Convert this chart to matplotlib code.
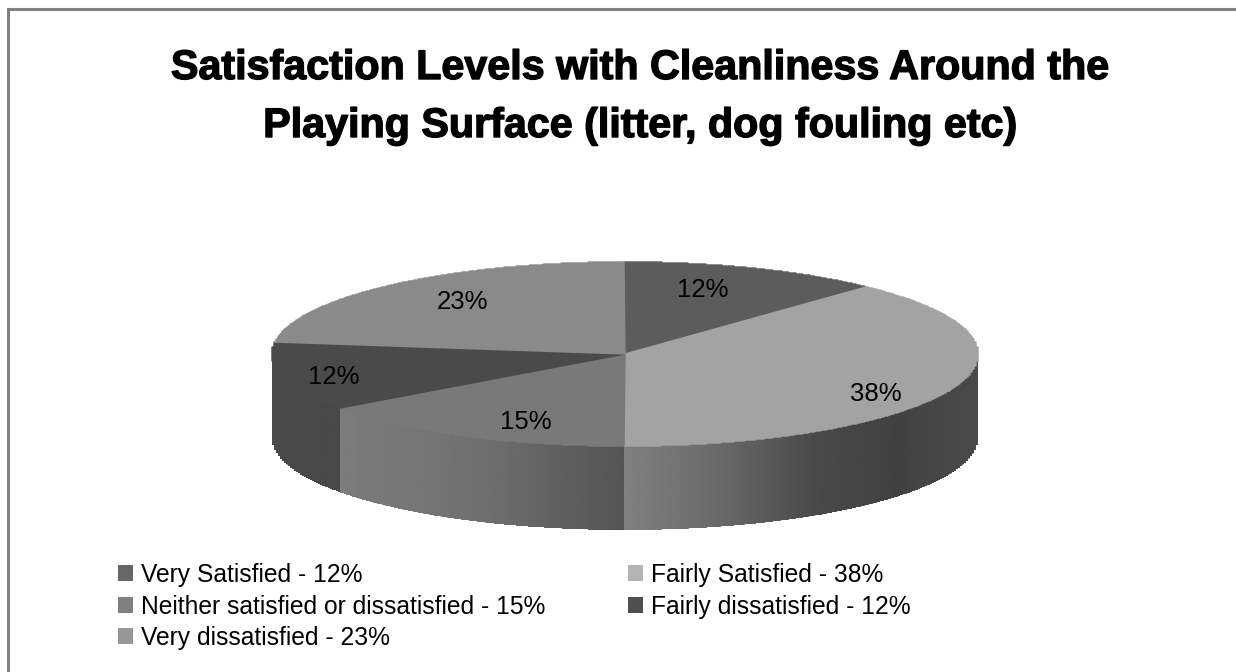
import numpy as np
import matplotlib
matplotlib.use('Agg')
import matplotlib.pyplot as plt
import matplotlib.patheffects as pe
from matplotlib.patches import Polygon, Rectangle

plt.rcParams['font.family'] = ['Liberation Sans', 'DejaVu Sans']

# Survey results
categories = ['Very Satisfied', 'Fairly Satisfied', 'Neither satisfied or dissatisfied',
              'Fairly dissatisfied', 'Very dissatisfied']
shares = [12, 38, 15, 12, 23]
top_colors = ['#5c5c5c', '#a3a3a3', '#797979', '#4a4a4a', '#8a8a8a']
legend_colors = ['#666666', '#b4b4b4', '#808080', '#505050', '#969696']
title_lines = ['Satisfaction Levels with Cleanliness Around the',
               'Playing Surface (litter, dog fouling etc)']

W, H = 1236, 672
cx, cy = 625, 354
rx, ry = 353, 92
depth = 84

fig = plt.figure(figsize=(W / 100, H / 100), dpi=100)
ax = fig.add_axes([0, 0, 1, 1])
ax.set_axis_off()


def rim(a0, a1, n=500):
    # points on the top ellipse, angles clockwise from 12 o'clock
    t = np.linspace(a0, a1, n)
    x, y = cx + rx * np.sin(t), cy - ry * np.cos(t)
    # the outline is finely stepped rather than smooth
    return np.round(x / 2) * 2, np.round(y)


def wall(a0, a1, stops):
    # side of the cylinder between two angles, shaded left to right
    x, y = rim(a0, a1)
    pts = np.vstack([np.c_[x, y], np.c_[x[::-1], y[::-1] + depth]])
    xs, gs = zip(*stops)
    grad = np.interp(np.linspace(x.min(), x.max(), 256), xs, gs)[None, :]
    im = ax.imshow(grad, cmap='gray', vmin=0, vmax=255, aspect='auto',
                   extent=[x.min(), x.max(), y.max() + depth, y.min()], zorder=2)
    im.set_clip_path(Polygon(pts, closed=True, transform=ax.transData))


edges = 2 * np.pi * np.cumsum([0] + shares) / sum(shares)

# side walls, only the front half of the pie shows
wall(np.pi / 2, edges[2], [(625, 128), (720, 105), (820, 72), (900, 66), (978, 74)])
wall(edges[2], edges[3], [(337, 124), (480, 112), (625, 84)])
wall(edges[3], 1.5 * np.pi, [(272, 74), (337, 72)])

# top face
for i, color in enumerate(top_colors):
    x, y = rim(edges[i], edges[i + 1])
    ax.add_patch(Polygon(np.vstack([[cx, cy], np.c_[x, y]]), closed=True,
                         fc=color, ec=color, lw=1, zorder=3))

# percentage labels
label_pos = [(703, 290), (876, 394), (526, 422), (334, 377), (463, 302)]
for share, (lx, ly) in zip(shares, label_pos):
    ax.text(lx, ly, f'{share}%', fontsize=18.5, ha='center', va='center', color='black', zorder=4)

# title, thickened a little with a stroke
for line, ty in zip(title_lines, [79, 137]):
    ax.text(640, ty, line, fontsize=29.7, fontweight='bold', ha='center', va='baseline', color='black',
            path_effects=[pe.withStroke(linewidth=1.0, foreground='black')])

# legend, two columns
legend_pos = [(118, 573), (628, 573), (118, 605), (628, 605), (118, 636)]
for name, share, color, (lx, ly) in zip(categories, shares, legend_colors, legend_pos):
    ax.add_patch(Rectangle((lx, ly - 8), 15, 16, fc=color, ec='none'))
    ax.text(lx + 23, ly + 2, f'{name} - {share}%', fontsize=17.7, ha='left', va='center', color='black')

# frame on the top and left edges
ax.plot([7.5, 7.5, W], [H, 8.5, 8.5], color='#808080', lw=2.2, solid_joinstyle='miter')

ax.set_xlim(0, W)
ax.set_ylim(H, 0)
fig.savefig('out.png', dpi=100, facecolor='white')
